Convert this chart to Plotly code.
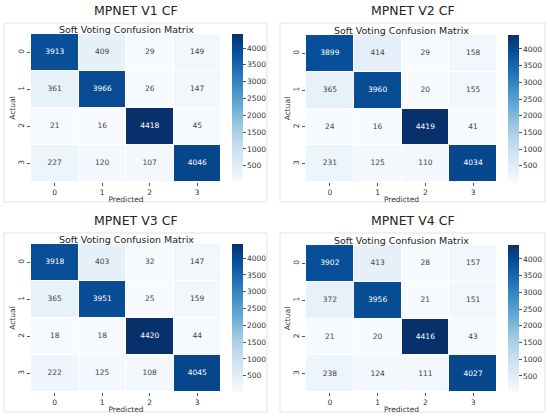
import plotly.graph_objects as go

labels = [0, 1, 2, 3]
titles = ["MPNET V1 CF", "MPNET V2 CF", "MPNET V3 CF", "MPNET V4 CF"]

cm_v1 = [[3913, 409, 29, 149],
         [361, 3966, 26, 147],
         [21, 16, 4418, 45],
         [227, 120, 107, 4046]]
cm_v2 = [[3899, 414, 29, 158],
         [365, 3960, 20, 155],
         [24, 16, 4419, 41],
         [231, 125, 110, 4034]]
cm_v3 = [[3918, 403, 32, 147],
         [365, 3951, 25, 159],
         [18, 18, 4420, 44],
         [222, 125, 108, 4045]]
cm_v4 = [[3902, 413, 28, 157],
         [372, 3956, 21, 151],
         [21, 20, 4416, 43],
         [238, 124, 111, 4027]]
matrices = [cm_v1, cm_v2, cm_v3, cm_v4]
cbar_ticks = [500, 1000, 1500, 2000, 2500, 3000, 3500, 4000]

blues = [[0.0, "rgb(247,251,255)"], [0.125, "rgb(222,235,247)"],
         [0.25, "rgb(198,219,239)"], [0.375, "rgb(158,202,225)"],
         [0.5, "rgb(107,174,214)"], [0.625, "rgb(66,146,198)"],
         [0.75, "rgb(33,113,181)"], [0.875, "rgb(8,81,156)"],
         [1.0, "rgb(8,48,107)"]]

W, H = 550, 418
FONT = "DejaVu Sans"

# pixel boxes: heatmap (x0, x1, y0, y1), colorbar x, frame (x0, x1, y0, y1)
panels = [
    dict(hm=(31, 221, 34, 182), cb=232, frame=(4, 267, 23, 202)),
    dict(hm=(306, 497, 35, 182), cb=508, frame=(280, 545, 23, 202)),
    dict(hm=(31, 221, 244, 392), cb=232, frame=(4, 267, 233, 412)),
    dict(hm=(306, 497, 245, 392), cb=508, frame=(280, 545, 233, 412)),
]


def px(x):
    return x / W


def py(y):
    return 1 - y / H


fig = go.Figure()
annotations = []
shapes = []

for i, (cm, title, p) in enumerate(zip(matrices, titles, panels)):
    n = "" if i == 0 else str(i + 1)
    x0, x1, y0, y1 = p["hm"]
    flat = [v for row in cm for v in row]
    zmin, zmax = min(flat), max(flat)

    fig.add_trace(go.Heatmap(
        z=cm, x=labels, y=labels,
        colorscale=blues, zmin=zmin, zmax=zmax,
        xgap=1, ygap=1,
        xaxis="x" + n, yaxis="y" + n,
        hoverinfo="skip",
        colorbar=dict(
            x=px(p["cb"]), xanchor="left", xpad=0,
            y=py(y1), yanchor="bottom", ypad=0,
            len=(y1 - y0) / H, lenmode="fraction",
            thickness=11, outlinewidth=0,
            tickvals=cbar_ticks, ticks="outside", ticklen=3,
            tickcolor="#555", tickfont=dict(family=FONT, size=7.5, color="#333"),
        ),
    ))

    xs, ys, txt, cols = [], [], [], []
    mid = (zmin + zmax) / 2
    for r, row in enumerate(cm):
        for c, v in enumerate(row):
            xs.append(labels[c])
            ys.append(labels[r])
            txt.append(str(v))
            cols.append("white" if v > mid else "#444444")
    fig.add_trace(go.Scatter(
        x=xs, y=ys, text=txt, mode="text",
        textfont=dict(family=FONT, size=7.5, color=cols),
        xaxis="x" + n, yaxis="y" + n, hoverinfo="skip", showlegend=False,
    ))

    axis_font = dict(family=FONT, size=7.5, color="#333")
    fig.layout["xaxis" + n] = dict(
        domain=[px(x0), px(x1)], anchor="y" + n,
        tickvals=labels, ticks="outside", ticklen=3, tickcolor="#555",
        tickfont=axis_font, showgrid=False, zeroline=False,
        title=dict(text="Predicted", font=axis_font, standoff=0),
    )
    fig.layout["yaxis" + n] = dict(
        domain=[py(y1), py(y0)], anchor="x" + n,
        tickvals=labels, ticks="outside", ticklen=3, tickcolor="#555",
        tickangle=-90, autorange="reversed",
        tickfont=axis_font, showgrid=False, zeroline=False,
        title=dict(text="Actual", font=axis_font, standoff=0),
    )

    fx0, fx1, fy0, fy1 = p["frame"]
    shapes.append(dict(type="rect", xref="paper", yref="paper",
                       x0=px(fx0), x1=px(fx1), y0=py(fy1), y1=py(fy0),
                       line=dict(color="#e3e3e3", width=1)))
    annotations.append(dict(text=title, xref="paper", yref="paper",
                            x=px((fx0 + fx1) / 2), y=py(fy0 - 3),
                            xanchor="center", yanchor="bottom",
                            showarrow=False,
                            font=dict(family=FONT, size=12.5, color="#222")))
    annotations.append(dict(text="Soft Voting Confusion Matrix",
                            xref="paper", yref="paper",
                            x=px((x0 + x1) / 2), y=py(y0 + 3),
                            xanchor="center", yanchor="bottom",
                            showarrow=False,
                            font=dict(family=FONT, size=9.5, color="#222")))

fig.update_layout(
    width=W, height=H,
    margin=dict(l=0, r=0, t=0, b=0),
    paper_bgcolor="white", plot_bgcolor="white",
    showlegend=False,
    shapes=shapes, annotations=annotations,
)

fig.write_html("out.html", config={"displayModeBar": False},
               post_script="document.body.style.margin='0';"
                           "document.body.style.padding='0';")
